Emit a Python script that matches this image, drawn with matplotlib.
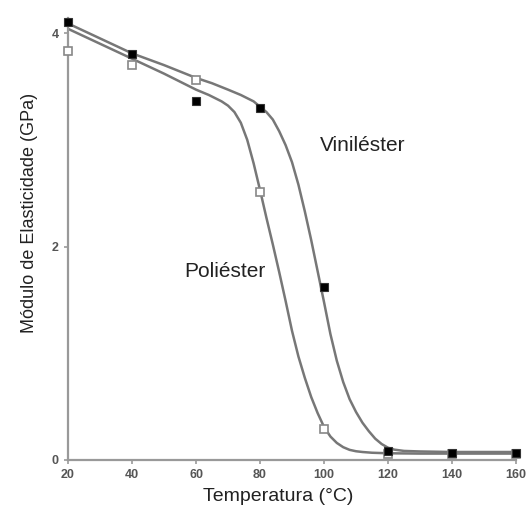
import matplotlib.pyplot as plt

plt.rcParams['font.family'] = ['Liberation Sans', 'DejaVu Sans']

# Pontos medidos
temp_pts = [20, 40, 60, 80, 100, 120, 140, 160]
vinil_pts = [4.10, 3.80, 3.36, 3.30, 1.62, 0.08, 0.07, 0.07]
poli_pts = [3.83, 3.70, 3.56, 2.51, 0.29, 0.06, 0.06, 0.06]

# Curvas ajustadas
vinil_t = [20, 30, 40, 50, 60, 65, 70, 74, 76, 78, 80, 82, 84, 86, 88, 90, 92, 94,
           96, 98, 100, 102, 104, 106, 108, 110, 112, 114, 116, 118, 120, 122, 125,
           130, 140, 150, 160]
vinil_v = [4.09, 3.95, 3.81, 3.70, 3.58, 3.53, 3.47, 3.42, 3.39, 3.36, 3.31, 3.26,
           3.19, 3.08, 2.95, 2.79, 2.58, 2.33, 2.06, 1.77, 1.48, 1.18, 0.93, 0.73,
           0.57, 0.45, 0.35, 0.27, 0.20, 0.15, 0.115, 0.097, 0.085, 0.08, 0.075,
           0.075, 0.075]
poli_t = [20, 30, 40, 50, 60, 64, 68, 70, 72, 74, 76, 78, 80, 82, 84, 86, 88, 90,
          92, 94, 96, 98, 100, 102, 104, 106, 108, 110, 112, 115, 120, 130, 140, 160]
poli_v = [4.04, 3.90, 3.76, 3.62, 3.47, 3.42, 3.36, 3.32, 3.26, 3.16, 3.00, 2.78,
          2.53, 2.27, 2.02, 1.76, 1.49, 1.21, 0.97, 0.77, 0.59, 0.44, 0.31, 0.22,
          0.16, 0.12, 0.095, 0.082, 0.075, 0.068, 0.063, 0.06, 0.06, 0.06]

fig = plt.figure(figsize=(5.28, 5.15), dpi=100)
ax = fig.add_axes([0.1288, 0.1068, 0.8485, 0.858])

ax.plot(poli_t, poli_v, color='#777777', lw=1.8, zorder=2, solid_joinstyle='round')
ax.plot(vinil_t, vinil_v, color='#777777', lw=1.8, zorder=2, solid_joinstyle='round')
ax.plot(temp_pts, poli_pts, ls='none', marker='s', ms=6, mfc='white',
        mec='#888888', mew=1.2, zorder=3, clip_on=False)
ax.plot(temp_pts, vinil_pts, ls='none', marker='s', ms=6, mfc='black',
        mec='#333333', mew=0.8, zorder=4, clip_on=False)

ax.text(112, 2.95, 'Viniléster', fontsize=15, ha='center', va='center', color='#222222')
ax.text(69, 1.77, 'Poliéster', fontsize=15, ha='center', va='center', color='#222222')

ax.set_xlim(20, 160)
ax.set_ylim(0, 4.14)
ax.set_xticks(range(20, 161, 20))
ax.set_yticks([0, 2, 4])

for s in ['top', 'right']:
    ax.spines[s].set_visible(False)
for s in ['left', 'bottom']:
    ax.spines[s].set_color('#999999')
    ax.spines[s].set_linewidth(1.6)

ax.tick_params(colors='#999999', length=3, width=1.2, labelsize=9,
               labelcolor='#555555')
for lab in ax.get_xticklabels() + ax.get_yticklabels():
    lab.set_fontweight('bold')

ax.set_xlabel('Temperatura (°C)', fontsize=14, color='#222222')
ax.set_ylabel('Módulo de Elasticidade (GPa)', fontsize=13, color='#222222')
ax.xaxis.set_label_coords(0.47, -0.063)
ax.yaxis.set_label_coords(-0.066, 0.56)

fig.savefig('out.png', dpi=100)
